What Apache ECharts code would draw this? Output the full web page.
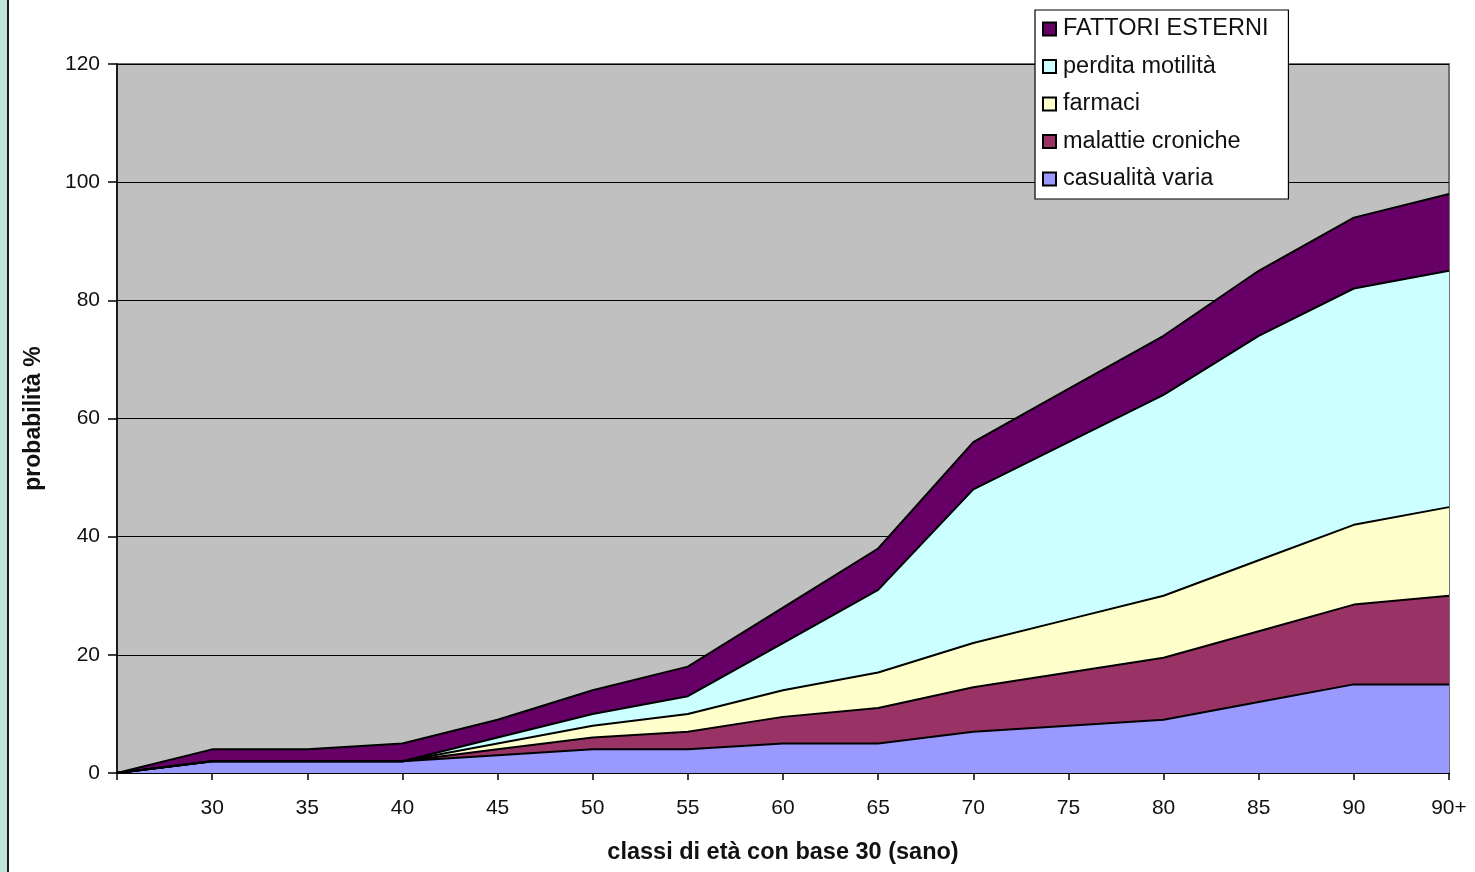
<!DOCTYPE html>
<html>
<head>
<meta charset="utf-8">
<script src="https://cdn.jsdelivr.net/npm/echarts@6/dist/echarts.min.js"></script>
<style>
  html, body { margin: 0; padding: 0; background: #ffffff; }
  #chart { width: 1475px; height: 872px; }
</style>
</head>
<body>
<div id="chart"></div>
<script>
// Age classes (the first point is the zero origin of the curves)
const categories = ['', '30', '35', '40', '45', '50', '55', '60', '65', '70', '75', '80', '85', '90', '90+'];

// Stacked contributions, bottom layer first
const casualitaVaria   = [0, 2, 2, 2, 3, 4, 4, 5, 5, 7, 8, 9, 12, 15, 15];
const malattieCroniche = [0, 0, 0, 0, 1, 2, 3, 4.5, 6, 7.5, 9, 10.5, 12, 13.5, 15];
const farmaci          = [0, 0, 0, 0, 1, 2, 3, 4.5, 6, 7.5, 9, 10.5, 12, 13.5, 15];
const perditaMotilita  = [0, 0, 0, 0, 1, 2, 3, 8, 14, 26, 30, 34, 38, 40, 40];
const fattoriEsterni   = [0, 2, 2, 3, 3, 4, 5, 6, 7, 8, 9, 10, 11, 12, 13];

const yTicks = { min: 0, max: 120, interval: 20 };

const layers = [
  { name: 'casualità varia',   data: casualitaVaria,   color: '#9999FF' },
  { name: 'malattie croniche', data: malattieCroniche, color: '#993366' },
  { name: 'farmaci',           data: farmaci,          color: '#FFFFCC' },
  { name: 'perdita motilità',  data: perditaMotilita,  color: '#CCFFFF' },
  { name: 'FATTORI ESTERNI',   data: fattoriEsterni,   color: '#660066' }
];

const font = '"Liberation Sans", Arial, sans-serif';

const chart = echarts.init(document.getElementById('chart'), null, { renderer: 'canvas' });

chart.setOption({
  animation: false,
  backgroundColor: '#ffffff',
  textStyle: { fontFamily: font },
  graphic: [
    { type: 'rect', left: 0, top: 0, shape: { width: 7, height: 872 }, style: { fill: '#BDE6D6' }, z: 0 },
    { type: 'rect', left: 7, top: 0, shape: { width: 2, height: 872 }, style: { fill: '#1a1a1a' }, z: 0 }
  ],
  grid: {
    left: 117, right: 26, top: 64, bottom: 99,
    show: true,
    backgroundColor: '#C0C0C0',
    borderColor: '#707070',
    borderWidth: 2
  },
  legend: {
    orient: 'vertical',
    left: 1035, top: 10,
    padding: [7, 20, 8, 7],
    backgroundColor: '#ffffff',
    borderColor: '#000000',
    borderWidth: 1.2,
    icon: 'rect',
    itemWidth: 13, itemHeight: 13,
    itemGap: 13.5,
    itemStyle: { borderColor: '#000000', borderWidth: 2 },
    textStyle: { fontFamily: font, fontSize: 23.5, color: '#111', padding: [0, 0, 0, 2], lineHeight: 22 },
    data: ['FATTORI ESTERNI', 'perdita motilità', 'farmaci', 'malattie croniche', 'casualità varia']
  },
  xAxis: {
    type: 'category',
    data: categories,
    boundaryGap: false,
    name: 'classi di età con base 30 (sano)',
    nameLocation: 'middle',
    nameGap: 68,
    nameTextStyle: { fontFamily: font, fontSize: 23.5, fontWeight: 'bold', color: '#111' },
    axisLine: { lineStyle: { color: '#000', width: 1.5 } },
    axisTick: { show: true, length: 7, lineStyle: { color: '#000', width: 1.5 }, alignWithLabel: true },
    axisLabel: { fontFamily: font, fontSize: 21, color: '#111', margin: 25, interval: 0 },
    splitLine: { show: false }
  },
  yAxis: {
    type: 'value',
    min: yTicks.min, max: yTicks.max, interval: yTicks.interval,
    name: 'probabilità %',
    nameLocation: 'middle',
    nameGap: 72,
    nameRotate: 90,
    nameTextStyle: { fontFamily: font, fontSize: 23, fontWeight: 'bold', color: '#111' },
    axisLine: { show: true, lineStyle: { color: '#000', width: 1.5 } },
    axisTick: { show: true, length: 9, lineStyle: { color: '#000', width: 1.5 } },
    axisLabel: { fontFamily: font, fontSize: 21, color: '#111', margin: 17 },
    splitLine: { show: true, lineStyle: { color: '#000', width: 1 } }
  },
  series: layers.map(l => ({
    name: l.name,
    type: 'line',
    stack: 'totale',
    data: l.data,
    symbol: 'none',
    showSymbol: false,
    lineStyle: { color: '#000', width: 2 },
    itemStyle: { color: l.color, borderColor: '#000', borderWidth: 2 },
    areaStyle: { color: l.color, opacity: 1 },
    emphasis: { disabled: true }
  }))
});
</script>
</body>
</html>
